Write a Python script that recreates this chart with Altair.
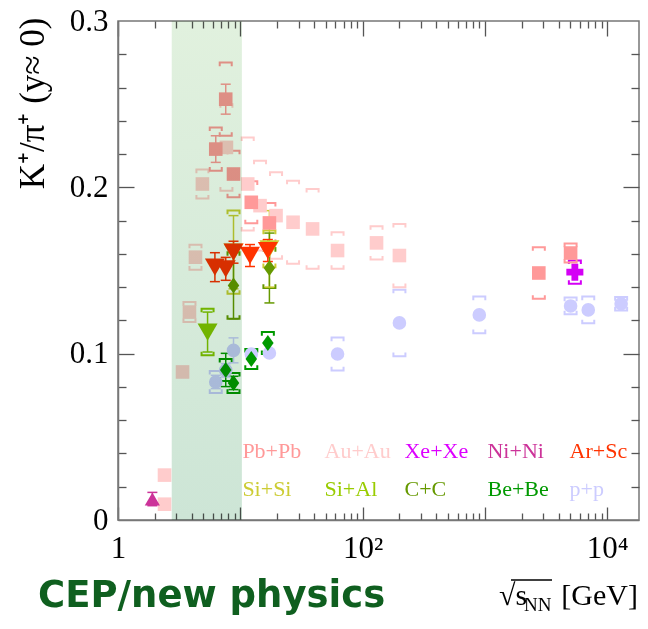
import altair as alt
import pandas as pd

# ------------------------------------------------------------------ data
# Au+Au (AGS, STAR BES, RHIC)
auau_s    = [2.4, 2.4, 3.37, 3.84, 4.3, 4.9, 7.7, 11.5, 14.5, 19.6, 27.0, 39.0, 62.4, 130.0, 200.0]
auau_v    = [0.027, 0.0095, 0.089, 0.125, 0.158, 0.202, 0.224, 0.202, 0.189, 0.183, 0.179, 0.175, 0.162, 0.1666, 0.159]
auau_stat = [0, 0, 0, 0, 0, 0, 0, 0, 0, 0, 0, 0, 0, 0, 0]
auau_sys  = [0, 0, 0, 0.006, 0.0075, 0.0087, 0.026, 0.028, 0.027, 0.026, 0.025, 0.024, 0.011, 0.010, 0.019]

# p+p
pp_s    = [6.3, 7.6, 8.8, 12.3, 17.3, 62.4, 200.0, 900.0, 5020.0, 7000.0, 13000.0]
pp_v    = [0.083, 0.090, 0.102, 0.0998, 0.1004, 0.0998, 0.1185, 0.1233, 0.1287, 0.1263, 0.130]
pp_stat = [0.004, 0.004, 0.0075, 0.003, 0.003, 0.002, 0.002, 0.002, 0.002, 0.002, 0.003]
pp_sys  = [0.0066, 0, 0, 0, 0, 0.0099, 0.020, 0.011, 0.005, 0.008, 0.004]

# Pb+Pb (SPS, LHC)
pbpb_s    = [6.3, 7.6, 8.8, 12.3, 17.3, 2760.0, 5020.0]
pbpb_v    = [0.223, 0.253, 0.208, 0.191, 0.1786, 0.1485, 0.1605]
pbpb_stat = [0.008, 0.009, 0.003, 0.002, 0.002, 0.002, 0.002]
pbpb_sys  = [0.013, 0.022, 0.014, 0.0126, 0.012, 0.0155, 0.0057]

# Si+Si
sisi_s    = [8.8, 17.3]
sisi_v    = [0.161, 0.163]
sisi_stat = [0.022, 0.023]
sisi_sys  = [0.025, 0.011]

# Si+Al
sial_s    = [5.4]
sial_v    = [0.113]
sial_stat = [0.012]
sial_sys  = [0.014]

# C+C
cc_s    = [8.8, 17.3]
cc_v    = [0.141, 0.1515]
cc_stat = [0.020, 0.021]
cc_sys  = [0.020, 0.012]

# Ar+Sc
arsc_s    = [6.2, 7.6, 8.8, 12.0, 16.8]
arsc_v    = [0.152, 0.151, 0.161, 0.159, 0.162]
arsc_stat = [0.0087, 0.0069, 0.0066, 0.0066, 0.0066]
arsc_sys  = [0, 0, 0, 0, 0]

# Be+Be
bebe_s    = [7.6, 8.8, 12.3, 16.8]
bebe_v    = [0.0902, 0.0824, 0.0968, 0.1064]
bebe_stat = [0.010, 0.004, 0.003, 0.003]
bebe_sys  = [0.0066, 0.006, 0.006, 0.0066]

# Ni+Ni
nini_s    = [1.91]
nini_v    = [0.0126]
nini_stat = [0.004]
nini_sys  = [0]

# Xe+Xe
xexe_s    = [5440.0]
xexe_v    = [0.149]
xexe_stat = [0.003]
xexe_sys  = [0.007]

# legend labels
legend_labels = ["Pb+Pb", "Au+Au", "Xe+Xe", "Ni+Ni", "Ar+Sc",
                 "Si+Si", "Si+Al", "C+C", "Be+Be", "p+p"]
legend_colors = ["#ff9999", "#ffcccc", "#dd00ff", "#cc3399", "#ff3300",
                 "#cccc33", "#99cc00", "#669900", "#009900", "#ccccff"]
legend_x = [10.4, 48.8, 220.0, 1050.0, 4920.0] * 2
legend_y = [0.0373] * 5 + [0.0144] * 5

# highlighted energy band
band_lo, band_hi = 2.75, 10.3

# ------------------------------------------------------------------ styles
DIAMOND = "M-0.72,0L0,-1L0.72,0L0,1Z"
series = [
    ("Au+Au", "#ffcccc", "square", 185, auau_s, auau_v, auau_stat, auau_sys),
    ("p+p", "#ccccff", "circle", 185, pp_s, pp_v, pp_stat, pp_sys),
    ("Pb+Pb", "#ff9999", "square", 185, pbpb_s, pbpb_v, pbpb_stat, pbpb_sys),
    ("Si+Si", "#cccc33", "triangle-down", 400, sisi_s, sisi_v, sisi_stat, sisi_sys),
    ("Si+Al", "#88c400", "triangle-down", 400, sial_s, sial_v, sial_stat, sial_sys),
    ("C+C", "#669900", DIAMOND, 256, cc_s, cc_v, cc_stat, cc_sys),
    ("Ar+Sc", "#ff3300", "triangle-down", 400, arsc_s, arsc_v, arsc_stat, arsc_sys),
    ("Be+Be", "#009900", DIAMOND, 256, bebe_s, bebe_v, bebe_stat, bebe_sys),
    ("Ni+Ni", "#cc3399", "triangle-up", 230, nini_s, nini_v, nini_stat, nini_sys),
    ("Xe+Xe", "#d400f5", "cross", 290, xexe_s, xexe_v, xexe_stat, xexe_sys),
]

rows = []
for name, color, shape, size, S, V, ST, SY in series:
    for s, v, st, sy in zip(S, V, ST, SY):
        rows.append(dict(name=name, color=color, shape=shape, size=size,
                         s=s, v=v, stat=st, sys=sy))
df = pd.DataFrame(rows)
df["order"] = range(len(df))

stat_df = df[df.stat > 0.0035].copy()
stat_df["lo"] = stat_df.v - stat_df.stat
stat_df["hi"] = stat_df.v + stat_df.stat
caps_df = pd.concat([
    stat_df.assign(y=stat_df.hi),
    stat_df.assign(y=stat_df.lo),
])

sys_df = df[df.sys > 0].copy()
systop_df = sys_df.assign(y=sys_df.v + sys_df.sys)
sysbot_df = sys_df.assign(y=sys_df.v - sys_df.sys)

legend_df = pd.DataFrame(dict(label=legend_labels, color=legend_colors,
                              lx=legend_x, ly=legend_y))
band_df = pd.DataFrame(dict(a=[band_lo], b=[band_hi], y0=[0.0], y1=[0.3]))

# ------------------------------------------------------------------ scales & axes
xscale = alt.Scale(type="log", domain=[1, 18200])
yscale = alt.Scale(domain=[0, 0.3])
SERIF = "Liberation Serif, Times New Roman, serif"
TICKC = "#555555"

x_major = [1, 10, 100, 1000, 10000]
x_minor = [m * d for d in [1, 10, 100, 1000] for m in range(2, 10)]
y_major = [0.1, 0.2]
y_minor = [round(0.02 * i, 2) for i in range(1, 15) if i % 5 != 0]


def tick_axis(orient, values, size):
    return alt.Axis(orient=orient, values=values, labels=False, domain=False,
                    grid=False, ticks=True, tickSize={"expr": str(-size)},
                    tickColor=TICKC, tickWidth=1.3, title="")


x_label_axis = alt.Axis(
    orient="bottom", values=[1, 100, 10000],
    labelExpr="datum.value == 1 ? '1' : (datum.value == 100 ? '10²' : '10⁴')",
    ticks=False, tickSize=0, domain=True, domainColor="#777777", domainWidth=1.5,
    labelFont=SERIF, labelFontSize=31, labelColor="black", labelPadding=13,
    labelFlush=False, labelOverlap=False, grid=False, title="")

y_label_axis = alt.Axis(
    orient="left", values=[0, 0.1, 0.2, 0.3], format=".1~f",
    ticks=False, tickSize=0, domain=True, domainColor="#777777", domainWidth=1.5,
    labelFont=SERIF, labelFontSize=31, labelColor="black", labelPadding=10,
    labelFlush=False, labelOverlap=False, grid=False,
    title="K⁺/π⁺ (y≈ 0)", titleFont=SERIF, titleFontSize=35,
    titleFontWeight="normal", titleColor="black", titleAngle=270,
    titleAlign="right", titleBaseline="alphabetic", titleX=-75, titleY=-4)

# ------------------------------------------------------------------ layers
sys_top = alt.Chart(systop_df).mark_point(
    shape="M-1,0.6L-1,0L1,0L1,0.6", filled=False, strokeWidth=2, size=144, opacity=1
).encode(
    x=alt.X("s:Q", scale=xscale, axis=tick_axis("bottom", x_major, 13)),
    y=alt.Y("y:Q", scale=yscale, axis=tick_axis("left", y_major, 16)),
    color=alt.Color("color:N", scale=None),
)

sys_bot = alt.Chart(sysbot_df).mark_point(
    shape="M-1,-0.6L-1,0L1,0L1,-0.6", filled=False, strokeWidth=2, size=144, opacity=1
).encode(
    x=alt.X("s:Q", scale=xscale, axis=tick_axis("bottom", x_minor, 7)),
    y=alt.Y("y:Q", scale=yscale, axis=tick_axis("left", y_minor, 8)),
    color=alt.Color("color:N", scale=None),
)

stat_bars = alt.Chart(stat_df).mark_rule(strokeWidth=1.5).encode(
    x=alt.X("s:Q", scale=xscale, axis=tick_axis("top", x_major, 15)),
    y=alt.Y("lo:Q", scale=yscale, axis=tick_axis("right", y_major, 16)),
    y2="hi:Q",
    color=alt.Color("color:N", scale=None),
)

stat_caps = alt.Chart(caps_df).mark_point(
    shape="M-1,0L1,0", filled=False, strokeWidth=1.5, size=100, opacity=1
).encode(
    x=alt.X("s:Q", scale=xscale, axis=tick_axis("top", x_minor, 7)),
    y=alt.Y("y:Q", scale=yscale, axis=tick_axis("right", y_minor, 8)),
    color=alt.Color("color:N", scale=None),
)

points = alt.Chart(df).mark_point(filled=True, opacity=1, strokeWidth=0).encode(
    x=alt.X("s:Q", scale=xscale, axis=x_label_axis),
    y=alt.Y("v:Q", scale=yscale, axis=y_label_axis),
    color=alt.Color("color:N", scale=None),
    shape=alt.Shape("shape:N", scale=None),
    size=alt.Size("size:Q", scale=None),
    order="order:Q",
)

legend = alt.Chart(legend_df).mark_text(
    align="left", baseline="alphabetic", font=SERIF, fontSize=22
).encode(
    x=alt.X("lx:Q", scale=xscale, axis=None),
    y=alt.Y("ly:Q", scale=yscale, axis=None),
    text="label:N",
    color=alt.Color("color:N", scale=None),
)

gradient = alt.LinearGradient(
    gradient="linear",
    stops=[alt.GradientStop(color="#e1f1de", offset=0),
           alt.GradientStop(color="#cde5d6", offset=1)],
    x1=0, x2=0, y1=0, y2=1)

band = alt.Chart(band_df).mark_rect(fill=gradient, blend="multiply").encode(
    x=alt.X("a:Q", scale=xscale, axis=None), x2="b:Q",
    y=alt.Y("y0:Q", scale=yscale, axis=None), y2="y1:Q",
)


# x-axis title pieces and footer (annotation text)
def ann(text, x, y, size, align="left", font=SERIF, weight="normal", color="black"):
    return alt.Chart(pd.DataFrame({"t": [text]})).mark_text(
        align=align, baseline="alphabetic", font=font, fontSize=size,
        fontWeight=weight, color=color
    ).encode(text="t:N", x=alt.value(x), y=alt.value(y))


title_root = ann("√s", 381, 584, 30)
title_nn = ann("NN", 406, 590, 19)
title_gev = ann("[GeV]", 520, 584, 30, align="right")
overline = alt.Chart(pd.DataFrame({"t": [0]})).mark_rule(
    strokeWidth=1.3, color="black"
).encode(x=alt.value(393), x2=alt.value(434), y=alt.value(559))
cep = ann("CEP/new physics", -80, 586, 37, font="DejaVu Sans", weight="bold",
          color="#0f5f1f")

chart = alt.layer(
    sys_top, sys_bot, stat_bars, stat_caps, points, legend, band,
    title_root, title_nn, title_gev, overline, cep,
).resolve_axis(
    x="independent", y="independent"
).properties(
    width=521, height=499,
    padding={"left": 110, "top": 13, "right": 1, "bottom": 96},
    autosize="none",
).configure_view(
    stroke="#777777", strokeWidth=1.5
).configure_axis(grid=False)

chart.save("out.html", embed_options={"renderer": "svg", "actions": False})
